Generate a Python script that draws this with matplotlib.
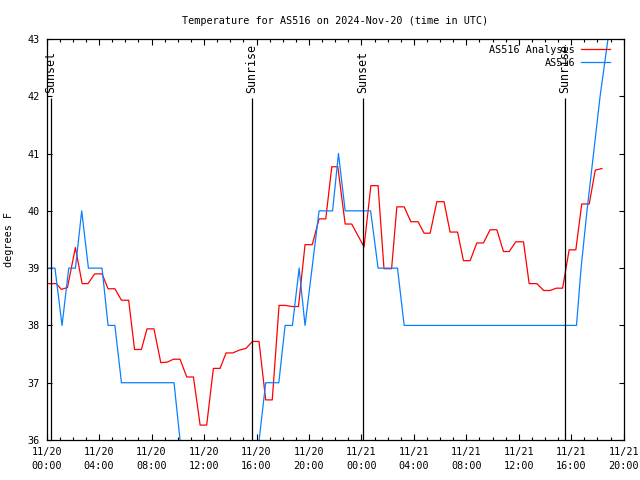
import numpy as np
import matplotlib
matplotlib.use("Agg")
import matplotlib.pyplot as plt
import matplotlib.dates as mdates

# ---- data (hours after 2024-11-20 00:00 UTC) ----
base = np.datetime64("2024-11-20T00:00:00")

analysis_hours = [0.15, 0.72, 1.12, 1.58, 2.19, 2.70, 3.15, 3.66, 4.22, 4.68, 5.20, 5.70,
                  6.25, 6.70, 7.22, 7.65, 8.18, 8.70, 9.20, 9.66, 10.17, 10.68, 11.19, 11.70,
                  12.20, 12.71, 13.22, 13.68, 14.19, 14.70, 15.20, 15.69, 16.19, 16.70, 17.20,
                  17.72, 18.20, 18.70, 19.20, 19.70, 20.25, 20.77, 21.28, 21.74, 22.20, 22.76,
                  23.26, 24.20, 24.72, 25.27, 25.72, 26.30, 26.70, 27.26, 27.77, 28.32, 28.78,
                  29.24, 29.75, 30.30, 30.76, 31.33, 31.78, 32.29, 32.80, 33.31, 33.81, 34.33,
                  34.83, 35.27, 35.77, 36.36, 36.79, 37.38, 37.89, 38.39, 38.85, 39.34, 39.84,
                  40.35, 40.80, 41.37, 41.83, 42.34]
analysis_temps = [38.73, 38.73, 38.63, 38.66, 39.36, 38.73, 38.73, 38.90, 38.90, 38.64, 38.64, 38.44,
                  38.44, 37.58, 37.58, 37.94, 37.94, 37.35, 37.36, 37.41, 37.41, 37.10, 37.10, 36.26,
                  36.26, 37.25, 37.25, 37.52, 37.52, 37.57, 37.60, 37.72, 37.72, 36.70, 36.70,
                  38.35, 38.35, 38.33, 38.33, 39.41, 39.41, 39.86, 39.86, 40.77, 40.77, 39.77,
                  39.77, 39.37, 40.44, 40.44, 38.99, 38.99, 40.07, 40.07, 39.81, 39.81, 39.61,
                  39.61, 40.16, 40.16, 39.63, 39.63, 39.13, 39.13, 39.44, 39.44, 39.67, 39.67,
                  39.29, 39.29, 39.46, 39.46, 38.73, 38.73, 38.61, 38.61, 38.65, 38.65, 39.32,
                  39.32, 40.12, 40.12, 40.71, 40.74]

obs_hours = [0.15, 0.63, 1.17, 1.68, 2.19, 2.67, 3.18, 4.22, 4.68, 5.20, 5.70, 9.71, 10.67,
             15.70, 16.70, 17.70, 18.18, 18.74, 19.25, 19.70, 20.77, 21.80, 22.25, 22.76,
             24.70, 25.27, 26.75, 27.26, 40.40, 40.75, 41.20, 41.70, 42.20, 42.80]
obs_temps = [39, 39, 38, 39, 39, 40, 39, 39, 38, 38, 37, 37, 34.9,
             35, 37, 37, 38, 38, 39, 38, 40, 40, 41, 40,
             40, 39, 39, 38, 38, 39, 40, 41, 42, 43]

sun_hours = [0.30, 15.62, 24.12, 39.52]
sun_labels = ["Sunset", "Sunrise", "Sunset", "Sunrise"]

series_names = ["AS516 Analysis", "AS516"]
series_colors = ["#ff0000", "#0a80ff"]

y_min, y_max = 36, 43
x_span_hours = 44


def to_time(hours):
    secs = np.round(np.asarray(hours, dtype=float) * 3600).astype("int64")
    return base + secs.astype("timedelta64[s]")


plt.rcParams["font.family"] = ["DejaVu Sans Mono"]
FS = 7.3

fig = plt.figure(figsize=(6.4, 4.8), dpi=100)
ax = fig.add_axes([46.7 / 640, 1 - 440 / 480, 577 / 640, 401 / 480])

ax.plot(to_time(analysis_hours), analysis_temps, color=series_colors[0], lw=0.9,
        label=series_names[0])
ax.plot(to_time(obs_hours), obs_temps, color=series_colors[1], lw=0.9,
        label=series_names[1])

for h, lab in zip(sun_hours, sun_labels):
    t = to_time([h])[0]
    ax.vlines(t, y_min, 41.97, color="black", lw=0.9)
    ax.text(t, 42.06, lab, rotation=90, ha="center", va="bottom", fontsize=8.4)

ax.set_xlim(base, to_time([x_span_hours])[0])
ax.set_ylim(y_min, y_max)

ax.xaxis.set_major_locator(mdates.HourLocator(byhour=[0, 4, 8, 12, 16, 20]))
ax.xaxis.set_minor_locator(mdates.HourLocator())
ax.xaxis.set_major_formatter(mdates.DateFormatter("%m/%d\n%H:%M"))
ax.set_yticks(np.arange(y_min, y_max + 1, 1))

ax.tick_params(axis="both", which="both", direction="in", top=True, right=True,
               labelsize=FS, width=0.8)
ax.tick_params(axis="x", which="major", length=4.5, pad=5)
ax.tick_params(axis="x", which="minor", length=2.5)
ax.tick_params(axis="y", which="major", length=3.5, pad=5)
for lab in ax.get_xticklabels():
    lab.set_linespacing(1.5)
for s in ax.spines.values():
    s.set_linewidth(0.9)

ax.set_ylabel("degrees F", fontsize=FS)
ax.yaxis.set_label_coords(-0.057, 0.5)
ax.set_title("Temperature for AS516 on 2024-Nov-20 (time in UTC)", fontsize=FS, pad=11)

leg = ax.legend(loc="upper right", frameon=False, markerfirst=False, fontsize=FS,
                handlelength=2.8, handletextpad=0.6, borderaxespad=0.3,
                labelspacing=0.3, bbox_to_anchor=(0.988, 1.003))

fig.savefig("out.png", dpi=100)
